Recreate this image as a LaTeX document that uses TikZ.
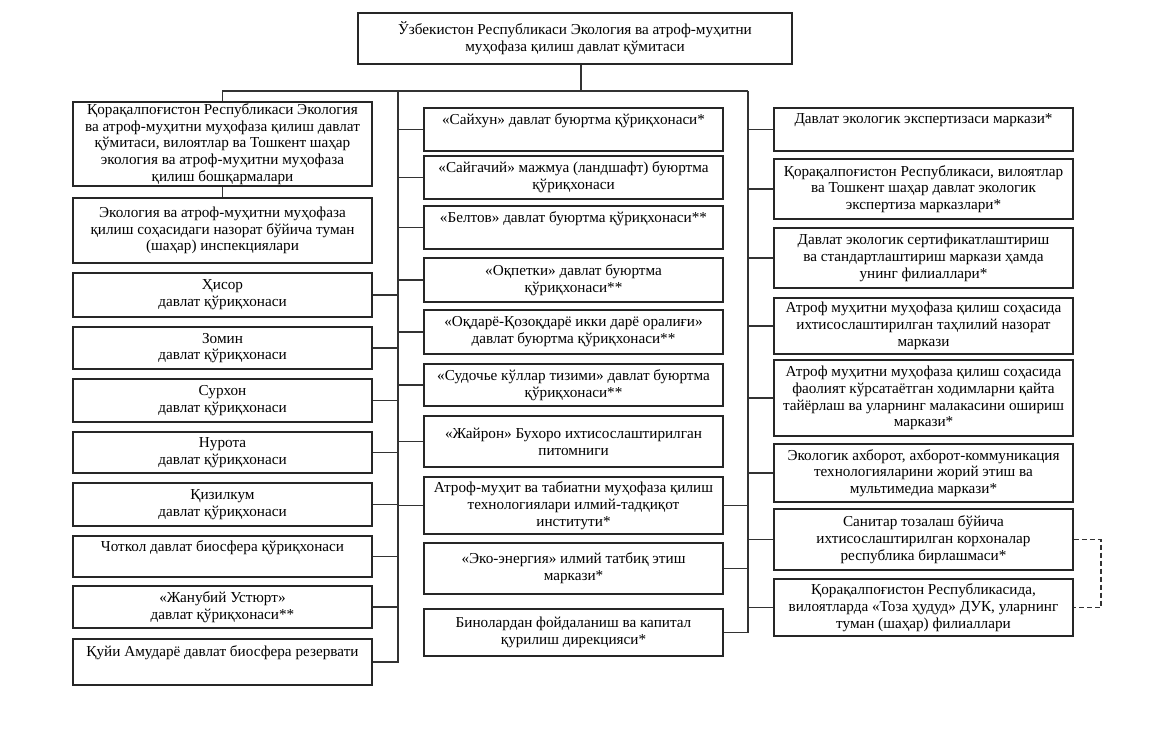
\documentclass[tikz,border=0pt]{standalone}
\usepackage{fontspec}
\setmainfont{Liberation Serif}
\begin{document}
\begin{tikzpicture}[x=1pt,y=-1pt,
  box/.style={draw=black!85, line width=1.5pt, align=center, inner sep=0pt,
    font=\fontsize{15.2}{16.8}\selectfont, text=black},
  lcol/.style={box, minimum width=299},
  conn/.style={draw=black!80, line width=1.3pt},
]
\useasboundingbox[fill=white] (0,0) rectangle (1150,752);
% top
\node[box, minimum width=434, minimum height=51] (top) at (575,38.5)
  {Ўзбекистон Республикаси Экология ва атроф-муҳитни\\муҳофаза қилиш давлат қўмитаси};
% left column
\node[lcol, minimum height=84] (L1) at (222.5,144) {Қорақалпоғистон Республикаси Экология\\ва атроф-муҳитни муҳофаза қилиш давлат\\қўмитаси, вилоятлар ва Тошкент шаҳар\\экология ва атроф-муҳитни муҳофаза\\қилиш бошқармалари};
\node[lcol, minimum height=65] (L2) at (222.5,230.5) {Экология ва атроф-муҳитни муҳофаза\\қилиш соҳасидаги назорат бўйича туман\\(шаҳар) инспекциялари};
\node[lcol, minimum height=44] (L3) at (222.5,295) {Ҳисор\\давлат қўриқхонаси};
\node[lcol, minimum height=42] (L4) at (222.5,348) {Зомин\\давлат қўриқхонаси};
\node[lcol, minimum height=43] (L5) at (222.5,400.5) {Сурхон\\давлат қўриқхонаси};
\node[lcol, minimum height=41] (L6) at (222.5,452.5) {Нурота\\давлат қўриқхонаси};
\node[lcol, minimum height=43] (L7) at (222.5,504.5) {Қизилкум\\давлат қўриқхонаси};
\node[lcol, minimum height=41] (L8) at (222.5,556.5) {Чоткол давлат биосфера қўриқхонаси\\\strut};
\node[lcol, minimum height=42] (L9) at (222.5,607) {«Жанубий Устюрт»\\давлат қўриқхонаси**};
\node[lcol, minimum height=46] (L10) at (222.5,662) {Қуйи Амударё давлат биосфера резервати\\\strut};
% middle column
\node[lcol, minimum height=43] (M1) at (573.5,129.5) {«Сайхун» давлат буюртма қўриқхонаси*\\\strut};
\node[lcol, minimum height=43] (M2) at (573.5,177.5) {«Сайгачий» мажмуа (ландшафт) буюртма\\қўриқхонаси};
\node[lcol, minimum height=43] (M3) at (573.5,227.5) {«Белтов» давлат буюртма қўриқхонаси**\\\strut};
\node[lcol, minimum height=44] (M4) at (573.5,280) {«Оқпетки» давлат буюртма\\қўриқхонаси**};
\node[lcol, minimum height=44] (M5) at (573.5,332) {«Оқдарё-Қозоқдарё икки дарё оралиғи»\\давлат буюртма қўриқхонаси**};
\node[lcol, minimum height=42] (M6) at (573.5,385) {«Судочье кўллар тизими» давлат буюртма\\қўриқхонаси**};
\node[lcol, minimum height=51] (M7) at (573.5,441.5) {«Жайрон» Бухоро ихтисослаштирилган\\питомниги};
\node[lcol, minimum height=57] (M8) at (573.5,505.5) {Атроф-муҳит ва табиатни муҳофаза қилиш\\технологиялари илмий-тадқиқот\\институти*};
\node[lcol, minimum height=51] (M9) at (573.5,568.5) {«Эко-энергия» илмий татбиқ этиш\\маркази*};
\node[lcol, minimum height=47] (M10) at (573.5,632.5) {Бинолардан фойдаланиш ва капитал\\қурилиш дирекцияси*};
% right column
\node[lcol, minimum height=43] (R1) at (923.5,129.5) {Давлат экологик экспертизаси маркази*\\\strut};
\node[lcol, minimum height=60] (R2) at (923.5,189) {Қорақалпоғистон Республикаси, вилоятлар\\ва Тошкент шаҳар давлат экологик\\экспертиза марказлари*};
\node[lcol, minimum height=60] (R3) at (923.5,258) {Давлат экологик сертификатлаштириш\\ва стандартлаштириш маркази ҳамда\\унинг филиаллари*};
\node[lcol, minimum height=56] (R4) at (923.5,326) {Атроф муҳитни муҳофаза қилиш соҳасида\\ихтисослаштирилган таҳлилий назорат\\маркази};
\node[lcol, minimum height=76] (R5) at (923.5,398) {Атроф муҳитни муҳофаза қилиш соҳасида\\фаолият кўрсатаётган ходимларни қайта\\тайёрлаш ва уларнинг малакасини ошириш\\маркази*};
\node[lcol, minimum height=58] (R6) at (923.5,473) {Экологик ахборот, ахборот-коммуникация\\технологияларини жорий этиш ва\\мультимедиа маркази*};
\node[lcol, minimum height=61] (R7) at (923.5,539.5) {Санитар тозалаш бўйича\\ихтисослаштирилган корхоналар\\республика бирлашмаси*};
\node[lcol, minimum height=57] (R8) at (923.5,607.5) {Қорақалпоғистон Республикасида,\\вилоятларда «Тоза ҳудуд» ДУК, уларнинг\\туман (шаҳар) филиаллари};
% buses
\coordinate (tc) at (581,91);
\coordinate (busL) at (398,91);
\coordinate (busR) at (748,91);
\draw[conn] (tc |- top.south) -- (tc);
\draw[conn] (L1.north) -- (L1.north |- tc) -- (busR);
\draw[conn] (L1.south) -- (L2.north);
\draw[conn] (busL) -- (busL |- L10.east) -- (L10.east);
\draw[conn] (busR) -- (busR |- M10.east) -- (M10.east);
\foreach \n in {L3,L4,L5,L6,L7,L8,L9}{\draw[conn] (\n.east) -- (\n.east -| busL);}
\foreach \n in {M1,M2,M3,M4,M5,M6,M7,M8}{\draw[conn] (\n.west) -- (\n.west -| busL);}
\foreach \n in {M8,M9}{\draw[conn] (\n.east) -- (\n.east -| busR);}
\foreach \n in {R1,R2,R3,R4,R5,R6,R7,R8}{\draw[conn] (\n.west) -- (\n.west -| busR);}
\draw[conn, line width=1.5pt, dash pattern=on 5pt off 3pt] (R7.east) -- ++(27,0) |- (R8.east);
\end{tikzpicture}
\end{document}
